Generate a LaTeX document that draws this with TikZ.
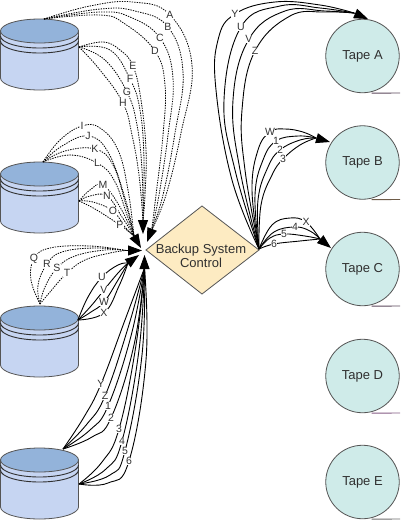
\documentclass[tikz,border=0pt]{standalone}
\usepackage{fontspec}
\setmainfont{Liberation Sans}
\usetikzlibrary{arrows.meta}
\pgfdeclarelayer{labels}
\pgfsetlayers{main,labels}
\definecolor{disktop}{HTML}{93B3DA}
\definecolor{diskbody}{HTML}{C6D5F2}
\definecolor{tapefill}{HTML}{CFEBE9}
\definecolor{ctrlfill}{HTML}{FDEBC2}
\definecolor{edge}{HTML}{555555}
\definecolor{inkc}{HTML}{303030}
\tikzset{
  lbl/.style={fill=white,inner sep=0.5pt,font=\fontsize{10.5}{12}\selectfont,text=inkc},
  tapenode/.style={circle,draw=edge,line width=0.8pt,fill=tapefill,minimum size=73.5pt,inner sep=0pt,font=\fontsize{13}{15}\selectfont,text=inkc},
  ctrlnode/.style={draw=edge,line width=0.8pt,fill=ctrlfill},
  dots/.style={line width=0.8pt,dash pattern=on 1.4pt off 1.1pt,black},
  solidl/.style={line width=0.9pt,black},
  headtip/.style={-{Triangle[length=14pt,width=10pt]},line width=0.9pt,black},
  baseline/.style={line width=0.9pt,color=#1}
}
% \conn{style}{name}{label}{x,y}{points before}{points after}
\newcommand{\conn}[6]{%
  \coordinate (#2) at (#4);
  \draw[#1] plot[smooth,tension=0.7] coordinates {#5 (#2) #6};
  \begin{pgfonlayer}{labels}\node[lbl] (n#2) at (#2) {#3};\end{pgfonlayer}
}
\newcommand{\diskshape}[1]{%
  \fill[diskbody] (0.5,#1+12) -- (0.5,#1+59) arc[start angle=180,end angle=0,x radius=39,y radius=12] -- (78.5,#1+12) -- cycle;
  \draw[edge,line width=0.8pt] (0.5,#1+12) -- (0.5,#1+59) arc[start angle=180,end angle=0,x radius=39,y radius=12] -- (78.5,#1+12);
  \draw[inkc,line width=0.9pt] (0.5,#1+17) arc[start angle=180,end angle=0,x radius=39,y radius=12];
  \draw[inkc,line width=0.9pt] (0.5,#1+22) arc[start angle=180,end angle=0,x radius=39,y radius=12];
  \draw[edge,line width=0.8pt,fill=disktop] (39.5,#1+12) ellipse[x radius=39,y radius=12];
}
\begin{document}
\begin{tikzpicture}[x=1pt,y=-1pt]
\useasboundingbox (0,0) rectangle (400,520);
\fill[white] (0,0) rectangle (400,520);
\diskshape{19}
\diskshape{162}
\diskshape{306}
\diskshape{448}
\coordinate (d1a) at (44,19);
\coordinate (d1b) at (79,47);
\coordinate (d2a) at (43,162);
\coordinate (d2b) at (79,201);
\coordinate (d3a) at (40,304);
\coordinate (d3b) at (78,320);
\coordinate (d4a) at (63,449);
\coordinate (d4b) at (79,484);
\coordinate (bAD) at (151.7,230);
\coordinate (hAD) at (147,242);
\coordinate (bEH) at (143,221);
\coordinate (hEH) at (143,234);
\coordinate (bIP) at (134,236);
\coordinate (hIP) at (141,248);
\coordinate (bQT) at (126,250.5);
\coordinate (hQT) at (142,250.5);
\coordinate (bUX) at (128,263);
\coordinate (hUX) at (139,255);
\coordinate (bYS) at (144.5,268);
\coordinate (hYS) at (144.5,255);
\coordinate (rr) at (259,249);
\draw[ctrlnode] (146,250) -- (202,206) -- (259,250) -- (202,294) -- cycle;
\node[font=\fontsize{13}{14.5}\selectfont,align=center,text=inkc] (ctrltext) at (201,256) {Backup System\\Control};
\node[tapenode] (ta) at (362.5,56) {Tape A};
\node[tapenode] (tb) at (362.5,162.5) {Tape B};
\node[tapenode] (tc) at (362.5,269) {Tape C};
\node[tapenode] (td) at (362.5,376) {Tape D};
\node[tapenode] (te) at (362.5,482) {Tape E};
\coordinate (bA) at (354,13);
\coordinate (tax) at (368,19);
\coordinate (bB) at (316,138);
\coordinate (tbx) at (330,142);
\coordinate (bC) at (320,239);
\coordinate (tcx) at (331,248);
\draw[baseline=edge!85!violet] ([xshift=9pt]ta.south) -- (400,93);
\draw[baseline=edge!85!orange] ([xshift=9pt]tb.south) -- (400,199.5);
\draw[baseline=edge!85!violet] ([xshift=9pt]tc.south) -- (400,306);
\draw[baseline=edge!60!violet!80!white] ([xshift=9pt]td.south) -- (400,413);
\draw[baseline=edge!85!white] ([xshift=9pt]te.south) -- (400,519);
% A-D
\conn{dots}{la}{A}{170,15}{(d1a) (90,6) (133,2)}{(192,65) (181,133) (166,195) (bAD)}
\conn{dots}{lb}{B}{168,27}{(d1a) (100,9) (135,11)}{(183,72) (175,133) (163,195) (bAD)}
\conn{dots}{lc}{C}{160,38}{(d1a) (100,12) (130,17)}{(173,78) (168,135) (159,195) (bAD)}
\conn{dots}{ld}{D}{155,51}{(d1a) (100,15) (125,24)}{(165,85) (163,135) (156,195) (bAD)}
\draw[headtip] (bAD) -- (hAD);
% E-H
\conn{dots}{le}{E}{133,66}{(d1b) (103,42) (120,50)}{(141,100) (146,150) (145,195) (bEH)}
\conn{dots}{lf}{F}{130,79}{(d1b) (110,50)}{(140,110) (144,160) (bEH)}
\conn{dots}{lg}{G}{127,92}{(d1b) (105,60)}{(137,125) (142,170) (bEH)}
\conn{dots}{lh}{H}{123,103}{(d1b) (100,70)}{(132,135) (139,175) (bEH)}
\draw[headtip] (bEH) -- (hEH);
% I-P
\conn{dots}{li}{I}{82,126}{(d2a) (60,140)}{(100,128) (118,150) (128,190) (bIP)}
\conn{dots}{lj}{J}{88,136}{(d2a) (62,146)}{(108,152) (125,198) (bIP)}
\conn{dots}{lk}{K}{95,149}{(d2a) (65,151)}{(113,165) (126,205) (bIP)}
\conn{dots}{ll}{L}{97,163}{(d2a) (70,155)}{(114,180) (127,215) (bIP)}
\conn{dots}{lm}{M}{103,185}{(d2b) (90,190)}{(120,207) (bIP)}
\conn{dots}{ln}{N}{107,196}{(d2b) (90,196)}{(122,217) (bIP)}
\conn{dots}{lo}{O}{113,211}{(d2b) (93,202)}{(125,227) (bIP)}
\conn{dots}{lp}{P}{120,225}{(d2b) (95,209)}{(128,231) (bIP)}
\draw[headtip] (bIP) -- (hIP);
% Q-T
\conn{dots}{lq}{Q}{34,259}{(d3a) (31,280)}{(50,248) (90,246) (bQT)}
\conn{dots}{lr}{R}{47,264}{(d3a) (38,285)}{(62,252) (95,248) (bQT)}
\conn{dots}{ls}{S}{57,268}{(d3a) (45,287)}{(75,256) (105,250) (bQT)}
\conn{dots}{lt}{T}{67,273}{(d3a) (50,292)}{(85,260) (110,253) (bQT)}
\draw[headtip] (bQT) -- (hQT);
% U-X
\conn{solidl}{lu}{U}{102,277}{(d3b) (88,297)}{(118,265) (bUX)}
\conn{solidl}{lv}{V}{104,290}{(d3b) (91,306)}{(118,273) (bUX)}
\conn{solidl}{lw}{W}{104,302}{(d3b) (91,312)}{(118,280) (bUX)}
\conn{solidl}{lx}{X}{104,313}{(d3b)}{(119,286) (bUX)}
\draw[headtip] (bUX) -- (hUX);
% Y-2
\conn{solidl}{ly}{Y}{101,384}{(d4a) (84,417)}{(125,320) (bYS)}
\conn{solidl}{lz}{Z}{105,396}{(d4a) (87,424)}{(128,328) (bYS)}
\conn{solidl}{l1}{1}{108,406}{(d4a) (90,430)}{(131,336) (bYS)}
\conn{solidl}{l2}{2}{111,418}{(d4a) (92,437)}{(134,345) (bYS)}
% 3-6
\conn{solidl}{l3}{3}{119,429}{(d4b) (102,462)}{(136,345) (bYS)}
\conn{solidl}{l4}{4}{122,441}{(d4b) (106,469)}{(139,350) (bYS)}
\conn{solidl}{l5}{5}{125,451}{(d4b) (110,475)}{(142,355) (bYS)}
\conn{solidl}{l6}{6}{129,461}{(d4b) (108,483)}{(146,360) (bYS)}
\draw[headtip] (bYS) -- (hYS);
% right: Y U V Z
\conn{solidl}{ry}{Y}{235,14}{(rr) (232,180) (216,90) (218,40)}{(275,2) (320,5) (bA)}
\conn{solidl}{ru}{U}{241,27}{(rr) (235,170) (224,100)}{(280,6) (320,8) (bA)}
\conn{solidl}{rv}{V}{249,39}{(rr) (240,170) (233,100)}{(285,11) (325,11) (bA)}
\conn{solidl}{rz}{Z}{255,51}{(rr) (245,170) (242,110)}{(290,16) (325,12) (bA)}
\draw[headtip] (bA) -- (tax);
% W 1 2 3
\conn{solidl}{rw}{W}{270,132}{(rr) (252,190) (258,150)}{(285,129) (303,132) (bB)}
\conn{solidl}{r1}{1}{276,141}{(rr) (255,195) (263,160)}{(298,136) (bB)}
\conn{solidl}{r2}{2}{280,150}{(rr) (258,200) (268,167)}{(300,140) (bB)}
\conn{solidl}{r3}{3}{283,159}{(rr) (261,205) (272,175)}{(300,145) (bB)}
\draw[headtip] (bB) -- (tbx);
% X 4 5 6
\conn{solidl}{rx}{X}{306,222}{(rr) (272,225) (290,218)}{(bC)}
\conn{solidl}{r4}{4}{295,227}{(rr) (274,232)}{(310,231) (bC)}
\conn{solidl}{r5}{5}{284,234}{(rr) (270,238)}{(305,236) (bC)}
\conn{solidl}{r6}{6}{274,244}{(rr)}{(300,241) (bC)}
\draw[headtip] (bC) -- (tcx);
\end{tikzpicture}
\end{document}
